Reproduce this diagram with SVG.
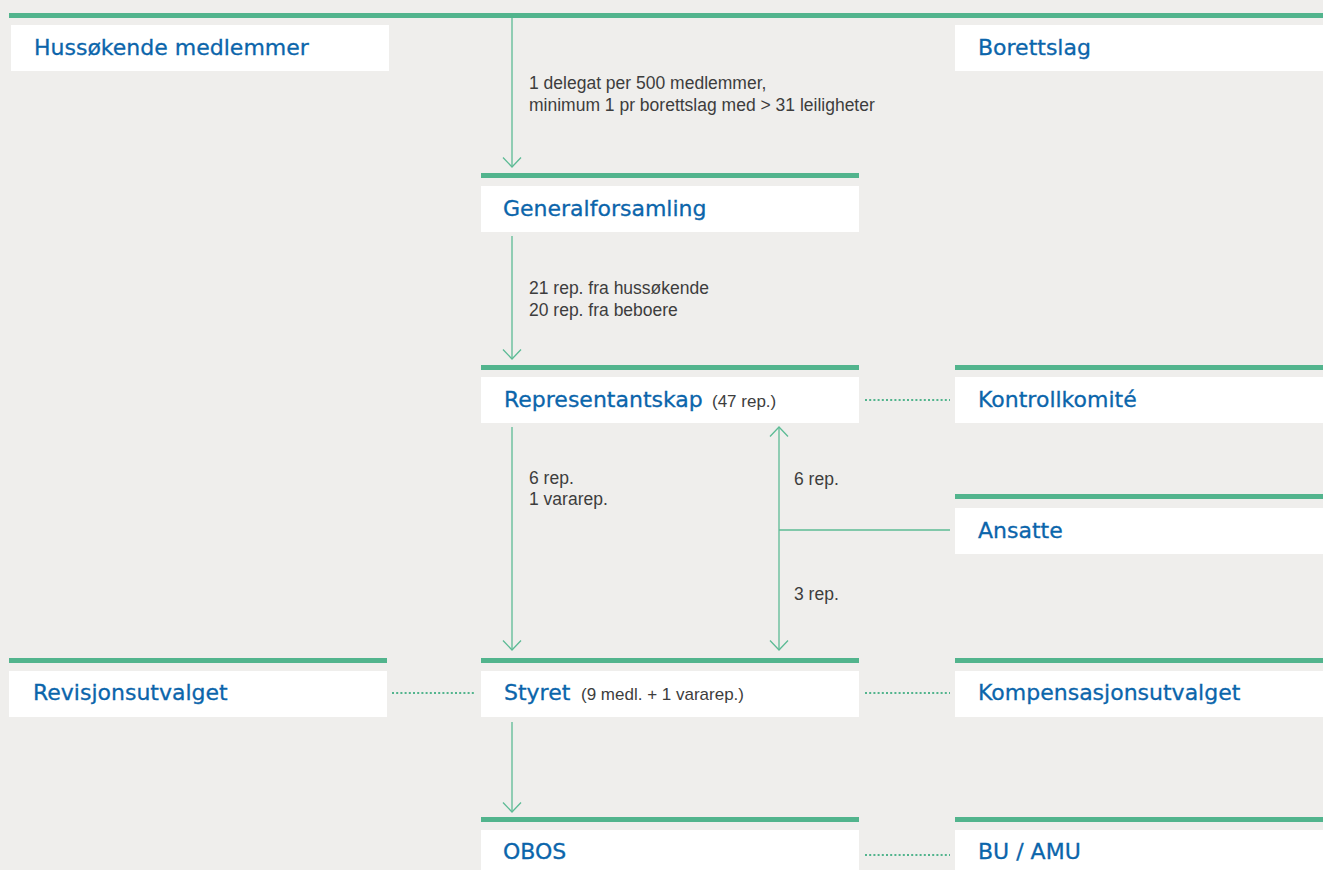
<svg xmlns="http://www.w3.org/2000/svg" width="1323" height="870" viewBox="0 0 1323 870">
<style>
.bar{fill:#52b48d}
.box{fill:#ffffff}
.title{font-family:"DejaVu Sans","Liberation Sans",sans-serif;font-size:22px;fill:#0b65ab;stroke:#0b65ab;stroke-width:0.3}
.sub{font-family:"Liberation Sans",Arial,sans-serif;font-size:17px;fill:#3d3d3d}
.lbl{font-family:"Liberation Sans",Arial,sans-serif;font-size:17.5px;fill:#3d3d3d}
.conn{stroke:#5cbb95;stroke-width:1.3;fill:none}
.dot{stroke:#52b48d;stroke-width:2;stroke-dasharray:2 2.2;fill:none}
</style>
<defs>
<marker id="arr" markerUnits="userSpaceOnUse" viewBox="-12 -12 24 24" refX="0" refY="0" markerWidth="24" markerHeight="24" orient="auto-start-reverse">
<path d="M-9.5,-9 L0,0 L-9.5,9" fill="none" stroke="#5cbb95" stroke-width="1.3"/>
</marker>
</defs>
<rect width="1323" height="870" fill="#efeeec"/>
<rect class="bar" x="9" y="13" width="1314" height="5"/>

<g id="hussokende">
<rect class="box" x="11" y="25" width="378" height="46"/>
<text class="title" x="34" y="55">Hussøkende medlemmer</text>
</g>
<g id="borettslag">
<rect class="box" x="955" y="25" width="368" height="46"/>
<text class="title" x="978" y="55">Borettslag</text>
</g>
<g id="generalforsamling">
<rect class="bar" x="481" y="173" width="378" height="5"/>
<rect class="box" x="481" y="186" width="378" height="46"/>
<text class="title" x="503" y="216">Generalforsamling</text>
</g>
<g id="representantskap">
<rect class="bar" x="481" y="365" width="378" height="5"/>
<rect class="box" x="481" y="377" width="378" height="46"/>
<text class="title" x="504" y="407">Representantskap</text>
<text class="sub" x="712" y="407">(47 rep.)</text>
</g>
<g id="kontrollkomite">
<rect class="bar" x="955" y="365" width="368" height="5"/>
<rect class="box" x="955" y="377" width="368" height="46"/>
<text class="title" x="978" y="407">Kontrollkomité</text>
</g>
<g id="ansatte">
<rect class="bar" x="955" y="494" width="368" height="5"/>
<rect class="box" x="955" y="508" width="368" height="46"/>
<text class="title" x="978" y="538">Ansatte</text>
</g>
<g id="revisjonsutvalget">
<rect class="bar" x="9" y="658" width="378" height="5"/>
<rect class="box" x="9" y="671" width="378" height="46"/>
<text class="title" x="33" y="700">Revisjonsutvalget</text>
</g>
<g id="styret">
<rect class="bar" x="481" y="658" width="378" height="5"/>
<rect class="box" x="481" y="671" width="378" height="46"/>
<text class="title" x="504" y="700">Styret</text>
<text class="sub" x="581" y="700">(9 medl. + 1 vararep.)</text>
</g>
<g id="kompensasjonsutvalget">
<rect class="bar" x="955" y="658" width="368" height="5"/>
<rect class="box" x="955" y="671" width="368" height="46"/>
<text class="title" x="978" y="700">Kompensasjonsutvalget</text>
</g>
<g id="obos">
<rect class="bar" x="481" y="817" width="378" height="5"/>
<rect class="box" x="481" y="830" width="378" height="46"/>
<text class="title" x="503" y="859">OBOS</text>
</g>
<g id="bu-amu">
<rect class="bar" x="955" y="817" width="368" height="5"/>
<rect class="box" x="955" y="830" width="368" height="46"/>
<text class="title" x="978" y="859">BU / AMU</text>
</g>

<g id="connectors">
<line class="conn" x1="512" y1="18" x2="512" y2="167" marker-end="url(#arr)"/>
<line class="conn" x1="512" y1="236" x2="512" y2="359" marker-end="url(#arr)"/>
<line class="conn" x1="512" y1="427" x2="512" y2="650" marker-end="url(#arr)"/>
<line class="conn" x1="779" y1="427" x2="779" y2="650" marker-start="url(#arr)" marker-end="url(#arr)"/>
<line class="conn" x1="779" y1="530" x2="950" y2="530"/>
<line class="conn" x1="512" y1="722" x2="512" y2="812" marker-end="url(#arr)"/>
<line class="dot" x1="865" y1="400" x2="950" y2="400"/>
<line class="dot" x1="392" y1="693" x2="476" y2="693"/>
<line class="dot" x1="865" y1="693" x2="950" y2="693"/>
<line class="dot" x1="865" y1="855" x2="950" y2="855"/>
<text class="lbl" x="529" y="89">1 delegat per 500 medlemmer,</text>
<text class="lbl" x="529" y="111">minimum 1 pr borettslag med &gt; 31 leiligheter</text>
<text class="lbl" x="529" y="294">21 rep. fra hussøkende</text>
<text class="lbl" x="529" y="316">20 rep. fra beboere</text>
<text class="lbl" x="529" y="484">6 rep.</text>
<text class="lbl" x="529" y="505">1 vararep.</text>
<text class="lbl" x="794" y="485">6 rep.</text>
<text class="lbl" x="794" y="600">3 rep.</text>
</g>
</svg>
